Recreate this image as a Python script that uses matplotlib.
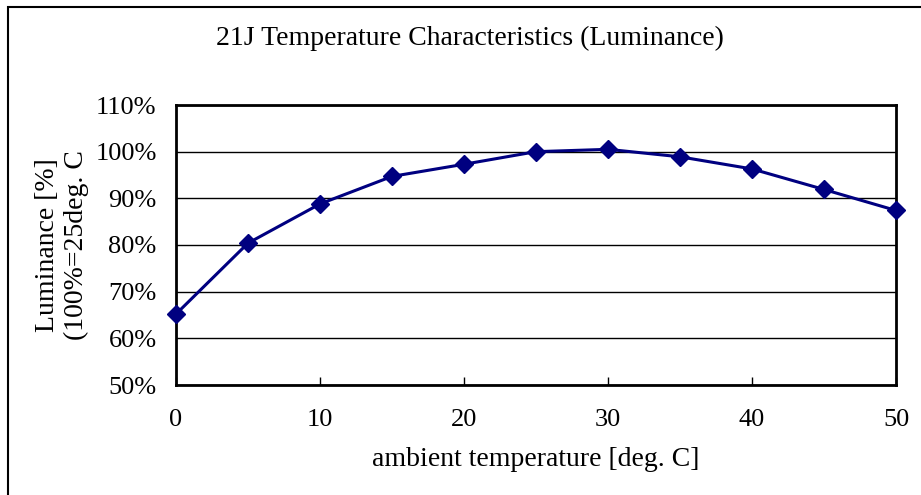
import matplotlib
matplotlib.use("Agg")
import matplotlib.pyplot as plt
from matplotlib.patches import Rectangle
from matplotlib.ticker import FuncFormatter

# ambient temperature [deg. C] vs relative luminance [%]
temps = [0, 5, 10, 15, 20, 25, 30, 35, 40, 45, 50]
luminance = [65.2, 80.4, 88.8, 94.7, 97.3, 100.0, 100.5, 98.9, 96.3, 91.9, 87.4]
yticks = [50, 60, 70, 80, 90, 100, 110]
xticks = [0, 10, 20, 30, 40, 50]

plt.rcParams['font.family'] = ['Liberation Serif', 'DejaVu Serif']

fig = plt.figure(figsize=(9.21, 4.95), dpi=100)
ax = fig.add_axes([176 / 921, 1 - 385 / 495, 720 / 921, 280 / 495])

# outer chart frame
fig.patches.append(Rectangle((8 / 921, -0.02), 1.0, 1 - 7 / 495 + 0.02,
                             transform=fig.transFigure, fill=False,
                             edgecolor='black', linewidth=1.5))

ax.plot(temps, luminance, color='#000080', linewidth=2.2, marker='D',
        markersize=9, clip_on=False, zorder=3)

ax.set_xlim(0, 50)
ax.set_ylim(50, 110)
ax.set_xticks(xticks)
ax.set_yticks(yticks)
ax.yaxis.set_major_formatter(FuncFormatter(lambda v, p: '%d%%' % v))
ax.grid(axis='y', color='black', linewidth=1)
ax.set_axisbelow(True)
ax.tick_params(axis='x', direction='in', length=6, width=1, labelsize=19, pad=17)
ax.tick_params(axis='y', length=0, labelsize=19, pad=14)
for s in ax.spines.values():
    s.set_linewidth(2)

ax.set_xlabel('ambient temperature [deg. C]', fontsize=20)
ax.xaxis.set_label_coords(0.5, -(460 - 385) / 280, transform=ax.transAxes)
ax.xaxis.label.set_va('center')
ax.set_ylabel('Luminance [%]\n(100%=25deg. C', fontsize=20, linespacing=1.25)
ax.yaxis.set_label_coords(-(176 - 62) / 720, 0.5)
ax.yaxis.label.set_va('center')
fig.text(470 / 921, 1 - 38 / 495, '21J Temperature Characteristics (Luminance)',
         ha='center', va='center', fontsize=20)

fig.savefig('out.png', dpi=100)
